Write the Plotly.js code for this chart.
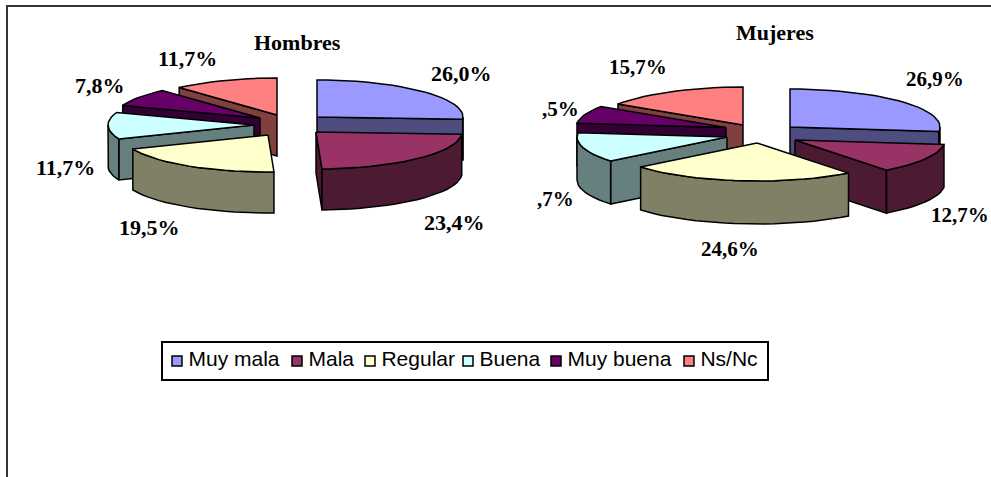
<!DOCTYPE html>
<html><head><meta charset="utf-8">
<script src="https://cdn.plot.ly/plotly-3.0.1.min.js"></script>
<style>html,body{margin:0;padding:0;background:#fff;overflow:hidden}</style>
</head><body><div id="chart" style="width:991px;height:477px"></div>
<script>
const categories = ["Muy mala","Mala","Regular","Buena","Muy buena","Ns/Nc"];
const hombres = [26.0,23.4,19.5,11.7,7.8,11.7];
const mujeres = [26.9,12.7,24.6,12.7,7.5,15.7];
const hombresLabels = ["26,0%","23,4%","19,5%","11,7%","7,8%","11,7%"];
const mujeresLabels = ["26,9%","12,7%","24,6%",",7%",",5%","15,7%"];
const topColors = ["#9999FF","#993366","#FFFFCC","#CCFFFF","#660066","#FF8080"];
const sideColors = ["#4D4D80","#4D1A33","#808066","#668080","#330033","#804040"];

// Presentation geometry (pixels, the axes map 1:1 to the page)
const serif = "Liberation Serif, Times New Roman, serif";
const sans = "Liberation Sans, Arial, sans-serif";
const pies = [
 {name:"Hombres", values:hombres, labels:hombresLabels, rx:146, ry:37, h:41,
  apex:[[317,117],[316,132],[268,135],[254,125],[260,118],[277,115]],
  order:[0,5,4,3,2,1],
  labelPos:[[461,73],[454,222],[149,227],[65,167],[100,85],[187,58]],
  titlePos:[297,42], labelSize:22, titleSize:22},
 {name:"Mujeres", values:mujeres, labels:mujeresLabels, rx:150, ry:38, h:43,
  apex:[[790,127],[795,140],[757,143],[727,137],[726,127.5],[743,125]],
  order:[0,5,4,3,1,2],
  labelPos:[[935,79],[960,215],[730,249],[555,199],[560,109],[638,67]],
  titlePos:[775,32], labelSize:21, titleSize:22}
];
const legendBox = {x0:162,x1:768,y0:342,y1:380};
const legendSwatch = [177,297,370,468,556,689];

const rad = d => d*Math.PI/180;
function pt(c,rx,ry,deg,dy){ return [c[0]+rx*Math.sin(rad(deg)), c[1]-ry*Math.cos(rad(deg))+(dy||0)]; }
function arcPts(c,rx,ry,a,b,dy){
  const n = Math.max(2,Math.ceil((b-a)/4)), out=[];
  for(let i=0;i<=n;i++) out.push(pt(c,rx,ry,a+(b-a)*i/n,dy));
  return out;
}
function poly(points,fill,name,showName){
  const xs=points.map(p=>p[0]), ys=points.map(p=>p[1]);
  xs.push(xs[0]); ys.push(ys[0]);
  return {type:"scatter",mode:"lines",x:xs,y:ys,fill:"toself",fillcolor:fill,
    line:{color:"#000",width:1.5},name:name,showlegend:false,hoverinfo:"text",text:showName,hoveron:"fills"};
}
const traces=[], annotations=[];
pies.forEach(p=>{
  const total=p.values.reduce((s,v)=>s+v,0);
  let cum=0;
  const spans=p.values.map(v=>{const a=cum; cum+=v/total*360; return [a,cum];});
  p.order.forEach(i=>{
    const [a,b]=spans[i], c=p.apex[i], label=p.name+" – "+categories[i]+": "+p.values[i];
    const side=sideColors[i];
    const radial=deg=>{const e=pt(c,p.rx,p.ry,deg); return [c,e,[e[0],e[1]+p.h],[c[0],c[1]+p.h]];};
    if(Math.sin(rad(a))<-1e-6) traces.push(poly(radial(a),side,categories[i],label));
    if(Math.sin(rad(b))>1e-6) traces.push(poly(radial(b),side,categories[i],label));
    const fa=Math.max(a,90), fb=Math.min(b,270);
    if(fb>fa){
      const top=arcPts(c,p.rx,p.ry,fa,fb), bot=arcPts(c,p.rx,p.ry,fa,fb,p.h).reverse();
      traces.push(poly(top.concat(bot),side,categories[i],label));
    }
    traces.push(poly([c].concat(arcPts(c,p.rx,p.ry,a,b)),topColors[i],categories[i],label));
  });
  p.labels.forEach((t,i)=>annotations.push({x:p.labelPos[i][0],y:p.labelPos[i][1],text:"<b>"+t+"</b>",
    showarrow:false,xref:"x",yref:"y",font:{family:serif,size:p.labelSize,color:"#000"}}));
  annotations.push({x:p.titlePos[0],y:p.titlePos[1],text:"<b>"+p.name+"</b>",showarrow:false,
    font:{family:serif,size:p.titleSize,color:"#000"}});
});
const legendY=(legendBox.y0+legendBox.y1)/2;
categories.forEach((c,i)=>{
  traces.push({type:"scatter",mode:"markers+text",x:[legendSwatch[i]],y:[legendY],name:c,showlegend:false,
    marker:{symbol:"square",size:10,color:topColors[i],line:{color:"#000",width:1.5}},
    text:["\u2009"+c],textposition:"middle right",cliponaxis:false,hoverinfo:"name",
    textfont:{family:sans,size:21,color:"#000"}});
});
const shapes=[
 {type:"line",x0:7,x1:7,y0:6,y1:477,line:{color:"#333",width:2}},
 {type:"line",x0:6,x1:991,y0:6,y1:6,line:{color:"#333",width:2}},
 {type:"rect",x0:legendBox.x0,x1:legendBox.x1,y0:legendBox.y0,y1:legendBox.y1,line:{color:"#000",width:2},fillcolor:"#fff",layer:"below"}
];
const layout={width:991,height:477,margin:{l:0,r:0,t:0,b:0},paper_bgcolor:"#fff",plot_bgcolor:"#fff",
  xaxis:{range:[0,991],visible:false,fixedrange:true},
  yaxis:{range:[477,0],visible:false,fixedrange:true},
  showlegend:false,shapes:shapes,annotations:annotations};
Plotly.newPlot("chart",traces,layout,{displayModeBar:false,staticPlot:false});
</script></body></html>
